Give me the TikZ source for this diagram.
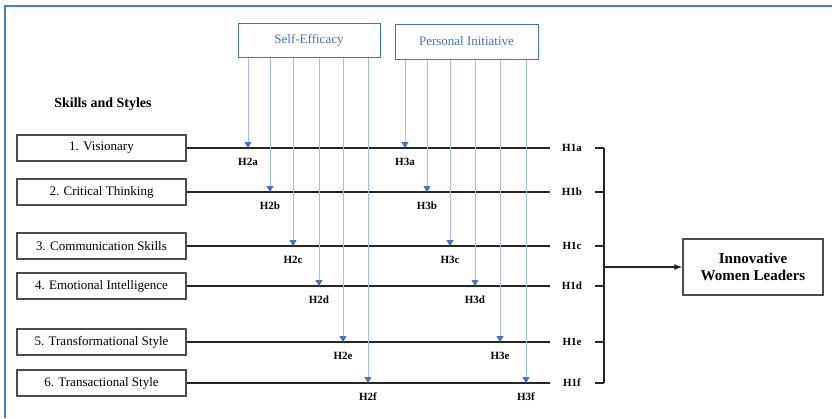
\documentclass[tikz,border=0pt]{standalone}
\usepackage{fontspec}
\setmainfont{Liberation Serif}
\usetikzlibrary{arrows.meta,positioning}
\definecolor{frameblue}{RGB}{74,126,196}
\definecolor{modblue}{RGB}{68,114,196}
\definecolor{paleblue}{RGB}{165,192,232}
\tikzset{
  skill/.style={draw=black!70,line width=1.2pt,minimum width=169pt,minimum height=26pt,inner sep=0pt,font=\fontsize{13}{15}\selectfont},
  moderator/.style={draw=modblue,line width=1pt,text=modblue,minimum height=34pt,inner sep=0pt,font=\fontsize{13}{15}\selectfont},
  hyp/.style={inner sep=0pt,font=\fontsize{11}{13}\selectfont\bfseries},
  link/.style={black!85,line width=1.3pt},
  modarrow/.style={paleblue,line width=0.9pt,-{Triangle[width=7pt,length=6pt,color=modblue]}}
}

\begin{document}
\begin{tikzpicture}[x=1pt,y=-1pt]
    \useasboundingbox (0,0) rectangle (832,418);
    \draw[frameblue,line width=2pt] (832,6) -- (5,6) -- (5,418);  % frame

    \node[font=\fontsize{14}{16}\selectfont\bfseries] (title) at (103,104) {Skills and Styles};

    % moderators and outcome
    \node[moderator,minimum width=142pt] (selfeff) at (309,40) {Self-Efficacy};
    \node[moderator,minimum width=143pt,minimum height=35pt] (persinit) at (466.5,41.5) {Personal Initiative};
    \node[draw=black!70,line width=1.2pt,minimum width=140pt,minimum height=56pt,align=center,
          font=\fontsize{15}{17}\selectfont\bfseries] (iwl) at (753,267) {Innovative\\Women Leaders};

    % skills, lines to H1 and bracket ticks
    \foreach \i/\l/\y/\t in {1/a/148/{1. Visionary},2/b/192/{2. Critical Thinking},
                             3/c/246/{3. Communication Skills},4/d/286/{4. Emotional Intelligence},
                             5/e/342/{5. Transformational Style},6/f/383/{6. Transactional Style}} {
        \node[skill] (sk\i) at (101.5,\y) {\t};
        \coordinate (e\i) at (550,\y);
        \draw[link] (sk\i) -- (e\i);
        \node[hyp] (h1\l) at (572,\y) {H1\l};
        \coordinate (b\l) at (604,\y);
        \draw[link] (b\l) -- ++(-9,0);
    }
    \draw[link] (ba) -- (bf);
    \draw[link,-{Latex[length=8pt,width=6pt]}] (ba |- iwl.west) -- (iwl.west);

    % moderating arrows
    \foreach \x/\l [count=\i] in {248/a,270/b,293/c,319/d,343/e,368/f} {
        \coordinate (mse\l) at (\x,0);
        \draw[modarrow] (mse\l |- selfeff.south) -- (mse\l |- e\i);
        \node[hyp,below=10pt] (h2\l) at (mse\l |- e\i) {H2\l};
    }
    \foreach \x/\l [count=\i] in {405/a,427/b,450/c,475/d,500/e,526/f} {
        \coordinate (mpi\l) at (\x,0);
        \draw[modarrow] (mpi\l |- persinit.south) -- (mpi\l |- e\i);
        \node[hyp,below=10pt] (h3\l) at (mpi\l |- e\i) {H3\l};
    }
\end{tikzpicture}
\end{document}
